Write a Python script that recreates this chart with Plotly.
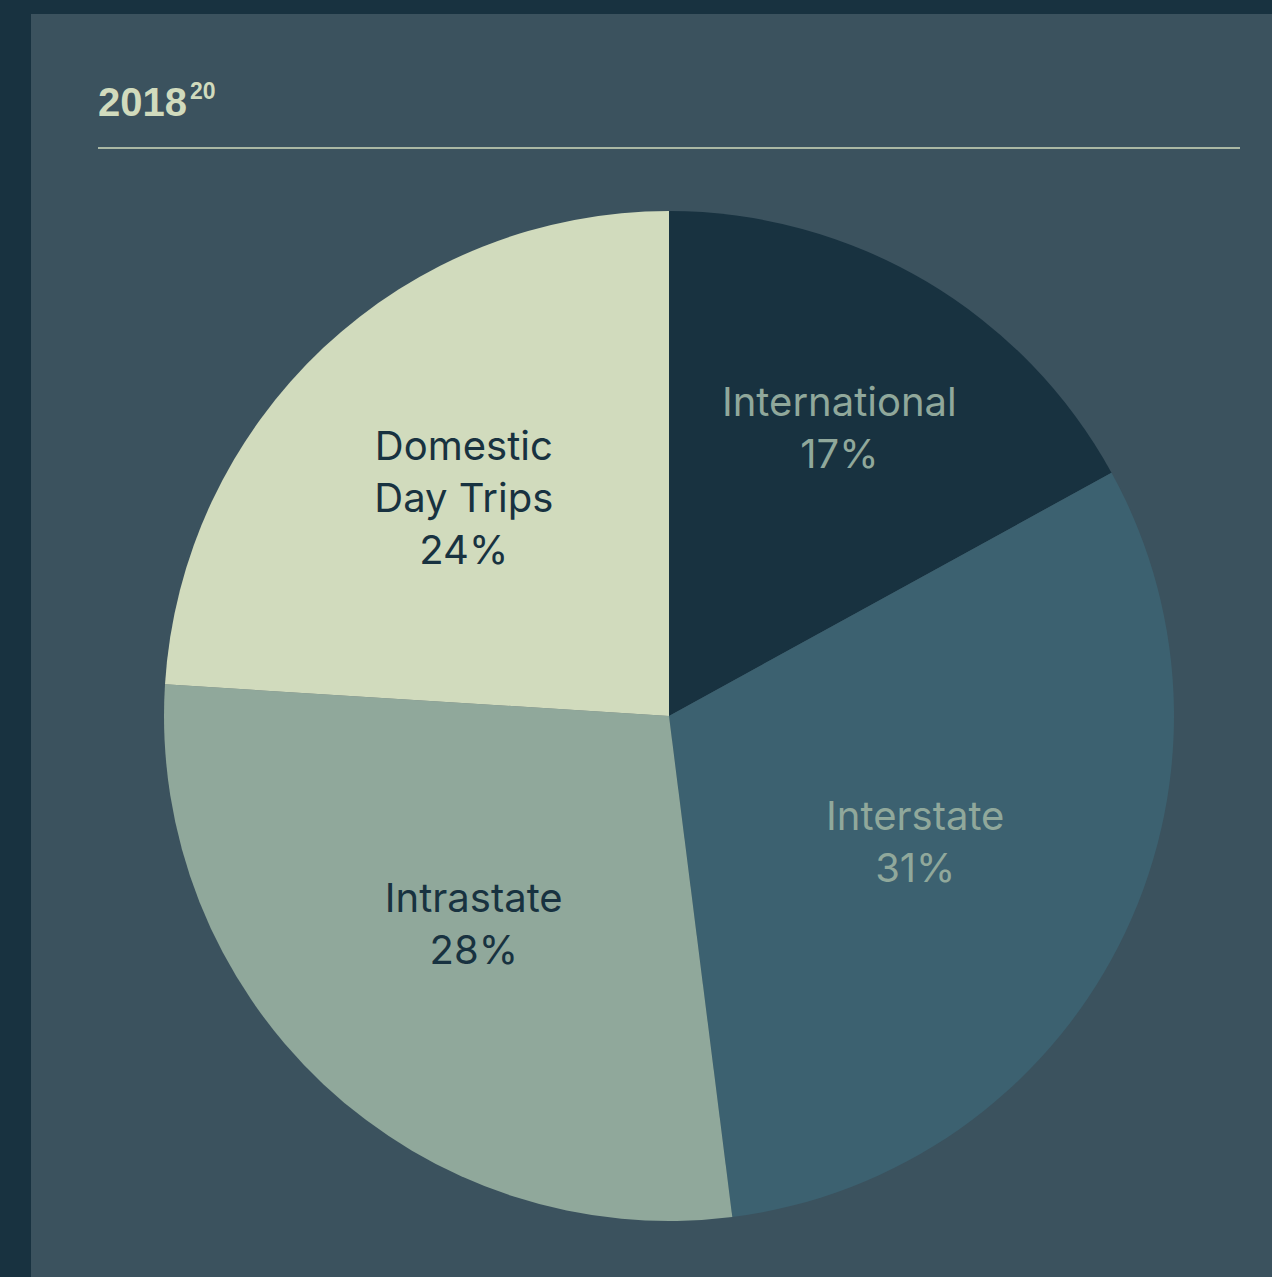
import plotly.graph_objects as go

labels = ["International", "Interstate", "Intrastate", "Domestic<br>Day Trips"]
values = [17, 31, 28, 24]
slice_colors = ["#183240", "#3c6170", "#90a89b", "#d1dbbd"]
text_colors = ["#90a89b", "#90a89b", "#183240", "#183240"]
title_main = "2018"
title_note = "20"

W, H = 1272, 1277
fig = go.Figure()
fig.add_trace(go.Pie(
    labels=labels,
    values=values,
    sort=False,
    direction="clockwise",
    rotation=0,
    marker=dict(colors=slice_colors, line=dict(width=0)),
    texttemplate="%{label}<br>%{percent:.0%}",
    textposition="inside",
    insidetextorientation="horizontal",
    textfont=dict(family="Inter", size=40, color=text_colors),
    showlegend=False,
    hoverinfo="label+percent",
    domain=dict(x=[164 / W, 1174 / W], y=[1 - 1221 / H, 1 - 211 / H]),
))

fig.update_layout(
    width=W, height=H,
    margin=dict(l=0, r=0, t=0, b=0),
    paper_bgcolor="#183240",
    plot_bgcolor="#3b525e",
    shapes=[
        dict(type="rect", xref="paper", yref="paper", x0=31 / W, x1=1, y0=0, y1=1 - 14 / H,
             fillcolor="#3b525e", line=dict(width=0), layer="below"),
        dict(type="line", xref="paper", yref="paper", x0=98 / W, x1=1240 / W,
             y0=1 - 148 / H, y1=1 - 148 / H, line=dict(color="#d1dbbd", width=1.5), layer="below"),
    ],
    annotations=[
        dict(text="<b>" + title_main + "</b>", xref="paper", yref="paper",
             x=96 / W, y=1 - 126 / H, xanchor="left", yanchor="bottom", showarrow=False,
             font=dict(family="Liberation Sans", size=40, color="#d1dbbd")),
        dict(text="<b>" + title_note + "</b>", xref="paper", yref="paper",
             x=188 / W, y=1 - 106 / H, xanchor="left", yanchor="bottom", showarrow=False,
             font=dict(family="Liberation Sans", size=23, color="#d1dbbd")),
    ],
)

fig.write_html("out.html", config={"displayModeBar": False},
               post_script="document.body.style.margin='0';document.body.style.overflow='hidden';")
